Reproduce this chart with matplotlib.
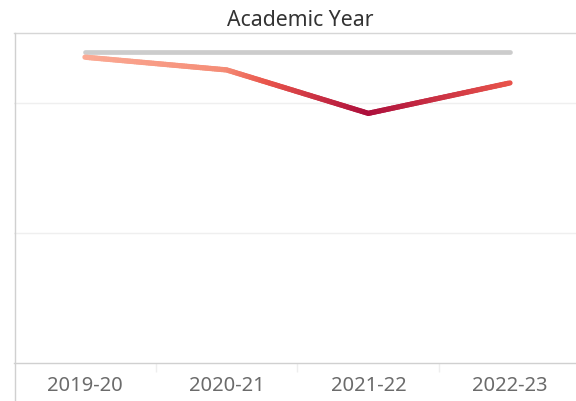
import matplotlib
matplotlib.use("Agg")
import matplotlib.pyplot as plt
import numpy as np
from matplotlib.collections import LineCollection
from matplotlib.colors import LinearSegmentedColormap, Normalize
from matplotlib.lines import Line2D

years = ["2019-20", "2020-21", "2021-22", "2022-23"]
actual = [1.176, 1.127, 0.960, 1.077]
target = [1.196, 1.196, 1.196, 1.196]
y_gridlines = [0.0, 0.5, 1.0]

W, H = 576, 401
fig = plt.figure(figsize=(W / 100, H / 100), dpi=100)
rect = [14 / W, (H - 363) / H, (W - 14) / W, (363 - 33) / H]
ax = fig.add_axes(rect)

x = np.arange(len(years))
ax.set_xlim(-0.501, 3.466)
ax.set_ylim(0, 1.269)

# grid
for g in y_gridlines[1:]:
    ax.axhline(g, color="#efefef", lw=1.0, zorder=0)

# target line
ax.plot(x, target, color="#cccccc", lw=3.4, solid_capstyle="round", zorder=2)

# colored actual line (color by value)
cmap = LinearSegmentedColormap.from_list(
    "reds", [(0.0, "#ad0f3c"), (0.55, "#e9554b"), (0.78, "#f58d77"), (1.0, "#fbab95")]
)
norm = Normalize(vmin=min(actual), vmax=max(actual))
segs, vals = [], []
n = 60
for i in range(len(x) - 1):
    xs = np.linspace(x[i], x[i + 1], n + 1)
    ys = np.linspace(actual[i], actual[i + 1], n + 1)
    for j in range(n):
        segs.append([(xs[j], ys[j]), (xs[j + 1], ys[j + 1])])
        vals.append((ys[j] + ys[j + 1]) / 2)
lc = LineCollection(segs, colors=cmap(norm(np.array(vals))), linewidths=3.8,
                    capstyle="round", joinstyle="round", zorder=3)
ax.add_collection(lc)

ax.set_yticks([])
ax.set_xticks(x)
ax.set_xticklabels(years, fontsize=14.5, color="#6b6b6b", family=["Noto Sans", "DejaVu Sans"])
ax.tick_params(axis="x", which="major", length=0, pad=9.5)
ax.set_xticks(x[:-1] + 0.5, minor=True)
ax.tick_params(axis="x", which="minor", length=6.5, color="#eeeeee", width=1.0)

for s in ["right", "left"]:
    ax.spines[s].set_visible(False)
ax.spines["top"].set_color("#d6d6d6")
ax.spines["bottom"].set_color("#d0d0d0")
ax.spines["top"].set_linewidth(1.0)
ax.spines["bottom"].set_linewidth(1.0)

# left axis line running to the bottom of the figure
fig.add_artist(Line2D([14.5 / W, 14.5 / W], [0, (H - 33) / H], color="#d0d0d0", lw=1.0))

fig.text(300 / W, 1 - 26 / H, "Academic Year", ha="center", va="baseline",
         fontsize=15.3, color="#333333", family=["Noto Sans", "DejaVu Sans"])

fig.savefig("out.png", dpi=100)
